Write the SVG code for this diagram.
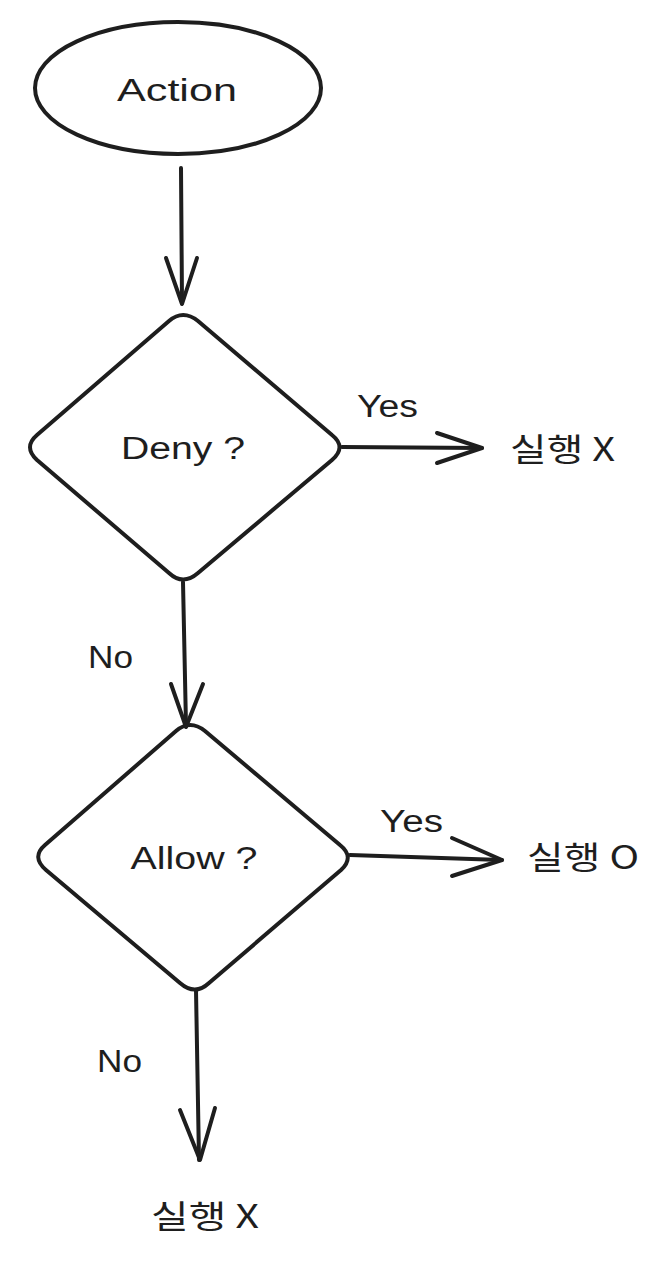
<svg xmlns="http://www.w3.org/2000/svg" width="665" height="1261" viewBox="0 0 665 1261">
<style>
.shape{fill:none;stroke:#1e1e1e;stroke-width:4;stroke-linecap:round;stroke-linejoin:round}
.conn{fill:none;stroke:#1e1e1e;stroke-width:4;stroke-linecap:round;stroke-linejoin:round}
.lbl{font-family:"Liberation Sans","Noto Sans CJK KR",sans-serif;font-size:31px;fill:#1e1e1e}
.ko{font-family:"Noto Sans CJK KR","Liberation Sans",sans-serif;font-size:32px;fill:#1e1e1e}
</style>
<rect width="665" height="1261" fill="#ffffff"/>
<g id="node-action">
<ellipse class="shape" cx="178" cy="88" rx="143" ry="66"/>
<text class="lbl" x="177" y="101" text-anchor="middle" textLength="120" lengthAdjust="spacingAndGlyphs">Action</text>
</g>
<g id="node-deny">
<path class="shape" d="M198,321 L332,435 Q347,447 332,460 L198,573 Q183,586 169,573 L37,460 Q23,447 37,435 L169,321 Q183,309 198,321 Z"/>
<text class="lbl" x="183" y="459" text-anchor="middle" textLength="124" lengthAdjust="spacingAndGlyphs">Deny ?</text>
</g>
<g id="node-allow">
<path class="shape" d="M205,731 L340,845 Q355,857 341,870 L209,983 Q195,996 180,983 L46,870 Q31,857 45,845 L176,731 Q190,719 205,731 Z"/>
<text class="lbl" x="194" y="869" text-anchor="middle" textLength="127" lengthAdjust="spacingAndGlyphs">Allow ?</text>
</g>
<g id="node-deny-result">
<text class="ko" x="510" y="461" textLength="105" lengthAdjust="spacingAndGlyphs">실행 X</text>
</g>
<g id="node-allow-result">
<text class="ko" x="527" y="869" textLength="112" lengthAdjust="spacingAndGlyphs">실행 O</text>
</g>
<g id="node-final-result">
<text class="ko" x="151" y="1228" textLength="108" lengthAdjust="spacingAndGlyphs">실행 X</text>
</g>
<g id="connectors">
<path class="conn" d="M181,168 L182,303"/>
<path class="conn" d="M166,258 L182,304 L197,258"/>
<path class="conn" d="M342,447 L482,448"/>
<path class="conn" d="M437,433 L482,448 L437,463"/>
<path class="conn" d="M183,582 L186,726"/>
<path class="conn" d="M171,684 L186,727 L203,684"/>
<path class="conn" d="M350,855 L502,860"/>
<path class="conn" d="M452,838 L502,860 L452,876"/>
<path class="conn" d="M196,990 L199,1160"/>
<path class="conn" d="M180,1110 L200,1160 L215,1108"/>
<text class="lbl" x="357" y="417" textLength="61" lengthAdjust="spacingAndGlyphs">Yes</text>
<text class="lbl" x="88" y="668" textLength="45" lengthAdjust="spacingAndGlyphs">No</text>
<text class="lbl" x="380" y="832" textLength="63" lengthAdjust="spacingAndGlyphs">Yes</text>
<text class="lbl" x="97" y="1072" textLength="45" lengthAdjust="spacingAndGlyphs">No</text>
</g>
</svg>
